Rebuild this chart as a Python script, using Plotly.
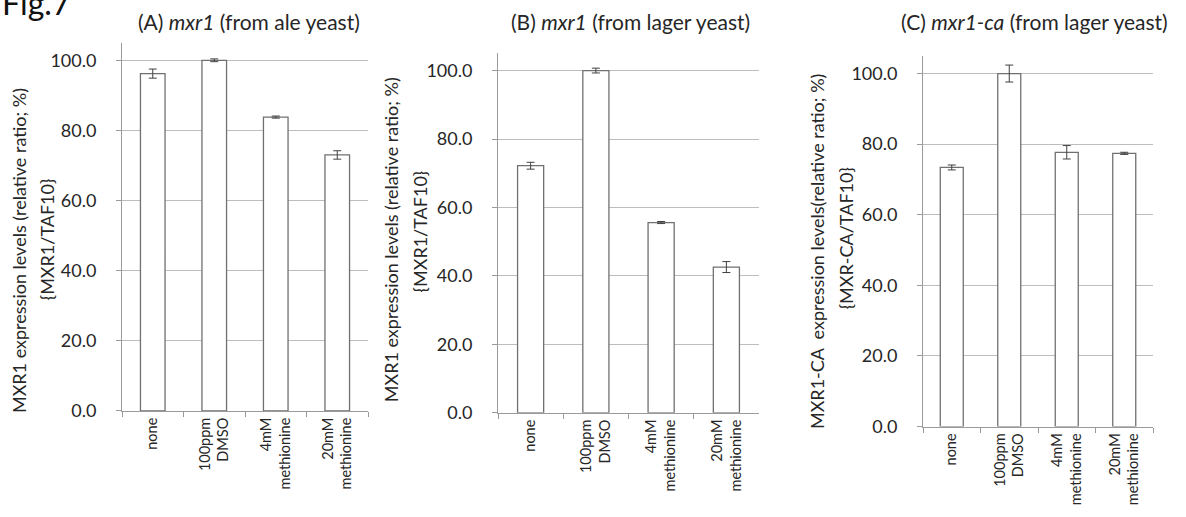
import plotly.graph_objects as go

W, H = 1186, 517

# Treatment groups shown on every panel
categories = ["none", "100ppm<br>DMSO", "4mM<br>methionine", "20mM<br>methionine"]

# (A) mxr1 from ale yeast
ale_mxr1 = [96.2, 100.0, 83.8, 73.0]
ale_mxr1_err = [1.3, 0.4, 0.3, 1.2]

# (B) mxr1 from lager yeast
lager_mxr1 = [72.2, 100.0, 55.6, 42.6]
lager_mxr1_err = [1.0, 0.7, 0.3, 1.6]

# (C) mxr1-ca from lager yeast
lager_mxr1ca = [73.4, 100.0, 77.7, 77.4]
lager_mxr1ca_err = [0.7, 2.4, 1.9, 0.3]

y_ticks = [0, 20, 40, 60, 80, 100]

panel_titles = [
    "(A) <i>mxr1</i> (from ale yeast)",
    "(B) <i>mxr1</i> (from lager yeast)",
    "(C) <i>mxr1-ca</i> (from lager yeast)",
]
y_titles = [
    ("MXR1 expression levels (relative ratio; %)", "{MXR1/TAF10}"),
    ("MXR1 expression levels (relative ratio; %)", "{MXR1/TAF10}"),
    ("MXR1-CA  expression levels(relative ratio; %)", "{MXR-CA/TAF10}"),
]

FONT = "Lato, 'Open Sans', sans-serif"
TXT = "#262626"


def px_x(x):
    return x / W


def px_y(y):
    return 1 - y / H


# plot-area geometry of each panel in pixels: (left, right, bottom, top)
panels = [
    (122, 368, 419, 43.6),
    (498, 759, 421, 54.5),
    (923, 1153, 435, 57.0),
]
title_pos = [(249, 22), (630, 22), (1034, 22)]
ytitle_pos = [((19, 256), (47, 244)), ((391, 245), (420, 236)), ((817, 257), (846, 243))]

series = [
    (ale_mxr1, ale_mxr1_err),
    (lager_mxr1, lager_mxr1_err),
    (lager_mxr1ca, lager_mxr1ca_err),
]

fig = go.Figure()
annotations = []

for i, ((vals, errs), (l, r, b, t)) in enumerate(zip(series, panels)):
    n = "" if i == 0 else str(i + 1)
    fig.add_trace(
        go.Bar(
            x=categories,
            y=vals,
            xaxis="x" + n,
            yaxis="y" + n,
            width=0.4,
            marker=dict(color="white", line=dict(color="#707070", width=1.3)),
            error_y=dict(type="data", array=errs, visible=True,
                         color="#404040", thickness=1, width=4),
            showlegend=False,
        )
    )
    fig.layout["xaxis" + n] = dict(
        domain=[px_x(l), px_x(r)],
        anchor="y" + n,
        type="category",
        tickson="boundaries",
        ticks="outside",
        ticklen=5,
        tickcolor="#9a9a9a",
        tickangle=-90,
        showline=True,
        linecolor="#9a9a9a",
        linewidth=1,
        showgrid=False,
        tickfont=dict(family=FONT, size=14.5, color=TXT),
        fixedrange=True,
    )
    fig.layout["yaxis" + n] = dict(
        domain=[px_y(b), px_y(t)],
        anchor="x" + n,
        range=[0, 105],
        tickvals=y_ticks,
        tickformat=".1f",
        ticks="outside",
        ticklen=5,
        tickcolor="#9a9a9a",
        showline=True,
        linecolor="#9a9a9a",
        linewidth=1,
        showgrid=True,
        gridcolor="#bdbdbd",
        gridwidth=1,
        zeroline=False,
        ticklabelstandoff=16,
        tickfont=dict(family=FONT, size=18, color=TXT),
        fixedrange=True,
    )
    tx, ty = title_pos[i]
    annotations.append(dict(
        text=panel_titles[i], x=px_x(tx), y=px_y(ty), xref="paper", yref="paper",
        xanchor="center", yanchor="middle", showarrow=False,
        font=dict(family=FONT, size=21, color=TXT),
    ))
    for line, (ax, ay) in zip(y_titles[i], ytitle_pos[i]):
        annotations.append(dict(
            text=line, x=px_x(ax), y=px_y(ay), xref="paper", yref="paper",
            xanchor="center", yanchor="middle", textangle=-90, showarrow=False,
            font=dict(family=FONT, size=18, color=TXT),
        ))

annotations.append(dict(
    text="Fig.7", x=0, y=px_y(3), xref="paper", yref="paper",
    xanchor="left", yanchor="middle", showarrow=False,
    font=dict(family=FONT, size=32, color="#111111"),
))

fig.update_layout(
    width=W,
    height=H,
    autosize=False,
    margin=dict(l=0, r=0, t=0, b=0),
    paper_bgcolor="white",
    plot_bgcolor="white",
    bargap=0.6,
    annotations=annotations,
)

fig.write_html("out.html")
